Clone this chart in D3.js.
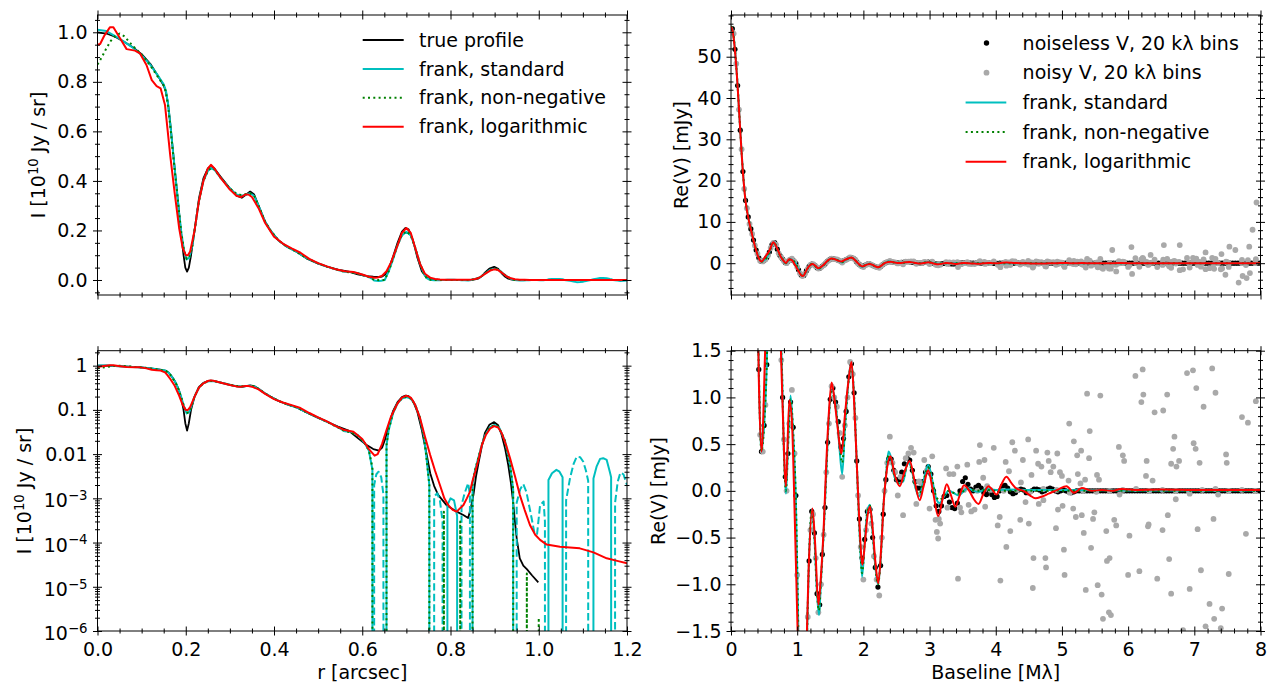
<!DOCTYPE html>
<html><head><meta charset="utf-8">
<script src="https://cdn.jsdelivr.net/npm/d3@7"></script>
<style>body{margin:0;background:#fff;} svg{display:block;} text{font-family:"DejaVu Sans",sans-serif;}</style>
</head><body><svg id="chart" width="1276" height="696"></svg>
<script>
// ---------------- DATA ----------------
// Brightness profiles [r (arcsec), I (1e10 Jy/sr)]
const profileTrue = [[0,1.0],[0.02,0.995],[0.04,0.982],[0.06,0.962],[0.08,0.94],[0.10,0.912],[0.12,0.872],[0.135,0.83],[0.15,0.785],[0.155,0.76],[0.16,0.71],[0.165,0.63],[0.17,0.54],[0.175,0.45],[0.18,0.36],[0.185,0.27],[0.19,0.18],[0.195,0.1],[0.199,0.05],[0.203,0.034],[0.207,0.05],[0.212,0.1],[0.22,0.2],[0.23,0.33],[0.24,0.41],[0.25,0.45],[0.257,0.46],[0.265,0.45],[0.28,0.415],[0.3,0.37],[0.315,0.34],[0.327,0.332],[0.337,0.345],[0.346,0.357],[0.355,0.345],[0.365,0.3],[0.38,0.235],[0.392,0.2],[0.41,0.16],[0.429,0.134],[0.45,0.115],[0.476,0.085],[0.5,0.066],[0.52,0.054],[0.545,0.042],[0.569,0.034],[0.59,0.023],[0.61,0.016],[0.625,0.013],[0.638,0.012],[0.645,0.014],[0.652,0.022],[0.66,0.045],[0.67,0.095],[0.68,0.15],[0.69,0.195],[0.698,0.21],[0.705,0.205],[0.715,0.16],[0.725,0.09],[0.735,0.035],[0.745,0.011],[0.754,0.0037],[0.763,0.0019],[0.772,0.0012],[0.791,0.0007],[0.814,0.0005],[0.829,0.00042],[0.84,0.00036],[0.846,0.0006],[0.852,0.0012],[0.858,0.0032],[0.864,0.0067],[0.871,0.015],[0.878,0.03],[0.888,0.046],[0.899,0.053],[0.908,0.045],[0.916,0.027],[0.924,0.013],[0.931,0.0056],[0.937,0.0022],[0.942,0.0008],[0.946,0.0003],[0.95,0.000125],[0.957,0.000044],[0.965,0.00003],[0.973,0.000025],[0.985,0.000018],[0.999,0.0000126]];

const profileStandard = [[0,1.01],[0.02,1.005],[0.04,0.985],[0.06,0.962],[0.08,0.938],[0.10,0.908],[0.12,0.868],[0.135,0.83],[0.15,0.79],[0.155,0.765],[0.16,0.71],[0.165,0.63],[0.17,0.54],[0.175,0.45],[0.18,0.36],[0.185,0.27],[0.19,0.19],[0.196,0.12],[0.202,0.083],[0.208,0.09],[0.215,0.14],[0.22,0.2],[0.23,0.32],[0.24,0.4],[0.25,0.44],[0.257,0.452],[0.265,0.445],[0.28,0.41],[0.3,0.37],[0.315,0.345],[0.327,0.34],[0.337,0.345],[0.346,0.35],[0.355,0.34],[0.365,0.3],[0.38,0.235],[0.392,0.2],[0.41,0.16],[0.429,0.135],[0.45,0.115],[0.476,0.086],[0.5,0.067],[0.52,0.054],[0.545,0.04],[0.56,0.033],[0.575,0.032],[0.59,0.027],[0.605,0.018],[0.615,0.012],[0.623,0.0045],[0.627,-0.002],[0.632,-0.0035],[0.637,-0.004],[0.643,-0.003],[0.648,-0.0012],[0.651,0],[0.655,0.016],[0.66,0.035],[0.67,0.085],[0.68,0.14],[0.69,0.18],[0.70,0.195],[0.71,0.18],[0.72,0.13],[0.73,0.07],[0.74,0.025],[0.746,0.0075],[0.752,0.002],[0.757,0],[0.763,-0.0011],[0.77,-0.0013],[0.776,-0.0009],[0.782,-0.0003],[0.787,0],[0.793,0.0007],[0.8,0.001],[0.808,0.0009],[0.815,0.0004],[0.82,0],[0.825,-0.0007],[0.832,-0.0013],[0.84,-0.0022],[0.844,-0.0012],[0.847,0],[0.85,0.0022],[0.856,0.0045],[0.864,0.009],[0.871,0.016],[0.878,0.026],[0.889,0.04],[0.9,0.046],[0.91,0.04],[0.9235,0.02],[0.935,0.0058],[0.942,0.0016],[0.946,0],[0.95,-0.0008],[0.958,-0.0016],[0.965,-0.0021],[0.972,-0.0014],[0.978,-0.0007],[0.984,-0.00035],[0.99,-0.00017],[0.996,-0.00015],[1.003,-0.0007],[1.011,-0.00085],[1.014,-0.0003],[1.018,0],[1.022,0.0026],[1.03,0.0037],[1.04,0.0044],[1.047,0.004],[1.054,0.003],[1.058,0],[1.062,-0.0009],[1.071,-0.0029],[1.079,-0.006],[1.086,-0.0087],[1.094,-0.0085],[1.101,-0.0067],[1.107,-0.0042],[1.112,-0.0025],[1.118,0],[1.124,0.0028],[1.131,0.0052],[1.139,0.0078],[1.146,0.0081],[1.154,0.0074],[1.161,0.004],[1.164,0.003],[1.168,0],[1.173,-0.0008],[1.179,-0.0024],[1.185,-0.0038],[1.192,-0.0035],[1.2,-0.002]];

const profileNonNeg = [[0,0.87],[0.01,0.9],[0.02,0.935],[0.03,0.965],[0.04,0.985],[0.05,0.995],[0.06,0.985],[0.08,0.945],[0.10,0.91],[0.12,0.865],[0.135,0.825],[0.15,0.785],[0.155,0.76],[0.16,0.7],[0.165,0.62],[0.17,0.53],[0.175,0.44],[0.18,0.36],[0.185,0.27],[0.19,0.19],[0.196,0.12],[0.202,0.085],[0.208,0.09],[0.215,0.14],[0.22,0.2],[0.23,0.32],[0.24,0.4],[0.25,0.44],[0.257,0.452],[0.265,0.447],[0.28,0.41],[0.3,0.37],[0.315,0.348],[0.327,0.342],[0.337,0.347],[0.346,0.35],[0.355,0.34],[0.365,0.3],[0.38,0.235],[0.392,0.2],[0.41,0.16],[0.429,0.135],[0.45,0.115],[0.476,0.086],[0.5,0.067],[0.52,0.054],[0.545,0.04],[0.56,0.033],[0.575,0.031],[0.59,0.026],[0.605,0.018],[0.615,0.012],[0.623,0.005],[0.627,0],[0.651,0],[0.655,0.016],[0.66,0.036],[0.67,0.087],[0.68,0.142],[0.69,0.182],[0.70,0.197],[0.71,0.18],[0.72,0.13],[0.73,0.07],[0.74,0.025],[0.746,0.0075],[0.752,0.002],[0.757,0],[0.781,0],[0.785,0.0005],[0.79,0],[0.818,0],[0.822,0.0003],[0.826,0],[0.847,0],[0.85,0.0022],[0.856,0.0045],[0.864,0.009],[0.871,0.016],[0.878,0.026],[0.889,0.04],[0.9,0.046],[0.91,0.04],[0.9235,0.02],[0.935,0.0058],[0.942,0.0016],[0.946,0],[0.97,0],[0.973,0.00002],[0.976,0],[0.997,0],[1.0,0.000002],[1.003,0],[1.2,0]];

const profileLog = [[0,0.95],[0.006,0.953],[0.015,0.985],[0.028,1.02],[0.036,1.02],[0.051,0.976],[0.066,0.932],[0.085,0.926],[0.096,0.915],[0.111,0.868],[0.123,0.807],[0.134,0.783],[0.143,0.774],[0.153,0.706],[0.158,0.62],[0.165,0.5],[0.175,0.35],[0.185,0.21],[0.193,0.13],[0.2,0.1],[0.205,0.1],[0.21,0.115],[0.22,0.2],[0.23,0.32],[0.24,0.4],[0.25,0.45],[0.257,0.465],[0.265,0.45],[0.28,0.41],[0.3,0.365],[0.315,0.34],[0.325,0.335],[0.335,0.345],[0.342,0.345],[0.35,0.335],[0.365,0.29],[0.38,0.23],[0.40,0.175],[0.42,0.147],[0.44,0.128],[0.46,0.11],[0.48,0.085],[0.50,0.068],[0.52,0.055],[0.54,0.043],[0.56,0.035],[0.58,0.032],[0.60,0.022],[0.615,0.013],[0.628,0.0092],[0.635,0.01],[0.645,0.017],[0.655,0.035],[0.665,0.07],[0.68,0.14],[0.69,0.19],[0.70,0.21],[0.71,0.19],[0.72,0.13],[0.731,0.065],[0.742,0.025],[0.754,0.0095],[0.765,0.0042],[0.776,0.002],[0.786,0.001],[0.795,0.0007],[0.805,0.00055],[0.814,0.0005],[0.822,0.0006],[0.829,0.0007],[0.837,0.001],[0.844,0.0014],[0.85,0.0025],[0.856,0.004],[0.864,0.008],[0.871,0.016],[0.88,0.027],[0.89,0.038],[0.899,0.043],[0.908,0.04],[0.916,0.03],[0.926,0.016],[0.935,0.008],[0.946,0.0032],[0.957,0.0012],[0.968,0.00055],[0.98,0.00025],[0.992,0.00015],[1.003,0.000115],[1.018,0.00009],[1.048,0.00008],[1.093,0.000074],[1.124,0.00006],[1.154,0.000044],[1.18,0.000038],[1.2,0.000034]];

// Visibilities: binned noiseless Re(V) [mJy], bins of 40 klambda starting at 0.02 Mlambda
const noiselessStart = 0.02, noiselessStep = 0.04;
const noiselessV = [
 56.8,51.8,43.0,32.2,22.2,15.2,11.2,8.3,5.6,3.2,
 1.3,0.42,0.7,1.35,2.7,4.5,5.0,3.4,1.85,1.0,
 0.15,0.4,0.95,0.68,-0.05,-1.6,-2.85,-2.95,-1.8,-0.75,
 -0.22,-0.45,-1.1,-1.22,-0.68,-0.18,0.52,0.98,1.1,0.95,
 0.74,0.47,0.56,0.85,1.22,1.36,1.05,0.32,-0.3,-0.72,
 -0.52,-0.22,-0.2,-0.5,-0.82,-1.03,-0.8,-0.25,0.12,0.34,
 0.34,0.22,0.12,0.12,0.2,0.29,0.35,0.33,0.22,0.1,
 0.03,0.03,0.1,0.2,0.26,0.18,0.0,-0.16,-0.22,-0.16,
 -0.06,-0.05,-0.12,-0.18,-0.19,-0.13,0.0,0.1,0.14,0.07,
 0.02,0.0,0.04,0.06,0.03,-0.02,-0.04,0.0,-0.04,-0.07,
 -0.06,0.0,0.05,0.06,0.03,-0.01,-0.03,-0.02,0.01,0.02,
 0.01,-0.02,-0.02,0.0,0.02,0.02,0.01,-0.01,0.0,0.02,
 0.03,0.02,0.0,-0.01,0.0,0.01,0.0,-0.01,-0.02,-0.01,
 0,0,0,0,0,0,0,0,0,0,
 0,0,0,0,0,0,0,0,0,0,
 0,0,0,0,0,0,0,0,0,0,
 0,0,0,0,0,0,0,0,0,0,
 0,0,0,0,0,0,0,0,0,0,
 0,0,0,0,0,0,0,0,0,0,
 0,0,0,0,0,0,0,0,0,0];

// Noisy binned Re(V): short baselines (bins from 0.04 Mlambda, step 0.04)
const noisyNearStart = 0.04, noisyNearStep = 0.04;
const noisyNearV = [
 55.6,48.3,37.2,27.6,18.0,13.3,9.5,7.1,4.3,2.3,
 0.6,0.42,0.92,1.95,3.7,4.9,4.5,2.4,1.4,0.55,
 0.0,0.72,1.08,0.4,-0.9,-2.4,-3.1,-2.5,-1.35,-0.42,
 -0.25,-0.72,-1.3,-1.0,-0.47,0.2,0.72,1.12,1.0,0.9,
 0.62,0.15,0.7,1.0,1.38,1.25,0.78,-0.05,-0.6,-0.95,
 -0.42,-0.2,-0.35,-0.7,-0.95,-1.12,-0.5,0.0,0.3,0.58,
 0.3,0.2,-0.05,0.15,-0.26,0.35,0.4,0.46,0.41,-0.14,
 0.1,0.08,0.33,0.22,-0.19];
// Noisy bins lying close to zero at long baselines (from 3.52 Mlambda, step 0.2)
const noisyQuietStart = 3.52, noisyQuietStep = 0.2;
const noisyQuietV = [0.01,0.0,0.01,0.0,0.01,-0.01,0.02,0.01,-0.02,0.0,-0.01,0.0,0.01,0.02,0.0,0.01,0.0,-0.01,0.01,0.02,0.0,0.01,0.0];
// Scattered noisy bins [baseline Mlambda, Re(V) mJy]
const noisyScatter = [[3.04,0.37],[3.09,-0.31],[3.11,-0.44],[3.13,-0.51],[3.14,-0.30],[3.16,-0.35],[3.25,0.24],[3.27,-0.18],[3.30,0.18],[3.36,0.18],[3.42,0.26],[3.43,-0.94],[3.46,-0.18],[3.48,-0.23],[3.57,0.28],[3.59,-0.15],[3.63,-0.22],[3.68,-0.2],[3.75,0.31],[3.76,0.49],[3.81,0.14],[3.83,0.33],[3.84,-0.17],[3.87,0.05],[3.97,0.46],[4.03,-0.37],[4.06,-0.28],[4.07,-0.96],[4.15,0.31],[4.16,-0.60],[4.20,0.21],[4.22,-0.43],[4.25,0.52],[4.29,0.43],[4.37,-0.31],[4.38,0.09],[4.41,0.33],[4.45,-0.12],[4.49,0.55],[4.50,-0.35],[4.54,0.17],[4.56,-1.04],[4.57,-0.72],[4.61,0.43],[4.64,0.29],[4.65,-0.14],[4.69,0.26],[4.72,-0.1],[4.75,-0.72],[4.76,-0.82],[4.78,0.41],[4.80,0.32],[4.83,0.2],
[6.22,1.30],[6.11,1.23],[6.89,1.26],[6.98,1.29],[7.27,1.31],[5.38,1.04],[5.58,1.02],[6.23,1.03],[6.20,0.95],[6.59,1.03],[7.03,1.10],[7.32,1.05],[7.93,0.96],[7.14,0.90],[6.40,0.84],[6.53,0.86],[5.11,0.72],[5.42,0.64],[7.72,0.79],[7.81,0.73],[6.70,0.58],[6.99,0.51],[5.86,0.47],[5.18,0.53],[4.93,0.40],[5.23,0.38],[5.29,0.43],[5.41,0.35],[5.92,0.38],[5.94,0.32],[6.28,0.32],[6.68,0.45],[6.77,0.32],[6.73,0.26],[6.65,0.29],[7.02,0.45],[7.08,0.30],[7.48,0.39],[7.49,0.30],[4.87,0.26],[4.97,0.20],[5.0,0.16],[5.1,0.11],[5.24,0.18],[5.28,0.08],[5.35,0.12],[5.53,0.17],[5.56,0.12],[6.27,0.16],[6.37,0.11],[5.87,-0.04],[6.72,-0.09],[6.93,-0.03],[7.36,-0.04],[4.94,-0.20],[5.01,-0.16],[5.17,-0.19],[5.21,-0.28],[5.30,-0.26],[5.47,-0.30],[5.49,-0.23],[5.79,-0.31],[5.82,-0.37],[6.31,-0.36],[6.30,-0.38],[6.60,-0.26],[6.52,-0.42],[7.29,-0.30],[7.05,-0.41],[4.91,-0.40],[5.33,-0.45],[5.67,-0.43],[6.02,-0.48],[7.78,-0.46],[5.03,-0.63],[5.44,-0.61],[5.72,-0.72],[5.68,-0.75],[6.62,-0.73],[5.04,-0.90],[6.00,-0.90],[6.17,-0.86],[7.10,-0.85],[7.52,-0.89],[5.36,-1.06],[5.54,-1.01],[5.60,-1.11],[6.44,-0.94],[6.65,-1.10],[6.93,-1.05],[7.23,-1.21],[7.42,-1.26],[5.71,-1.30],[5.74,-1.33],[5.62,-1.37],[7.17,-1.45],[7.30,-1.37],[6.83,-1.49],[7.40,-1.47],
[5.76,3.2],[6.05,3.9],[6.06,-2.6],[6.54,4.4],[6.78,4.4],[6.34,2.0],[7.17,2.6],[7.41,2.2],[7.53,4.0],[7.47,-2.8],[7.67,-4.7],[7.73,-3.1],[7.79,-3.6],[7.83,4.0],[7.88,8.1],[7.94,14.7],[7.84,-2.4],[7.62,3.2],[5.82,-2.0],[6.78,-1.7]];

// frank fits in visibility space [baseline Mlambda, Re(V) mJy]
const visStandard = [[0,57.4],[0.02,56.8],[0.06,51.8],[0.10,43],[0.14,32.2],[0.18,22.2],[0.22,15.2],[0.26,11.2],[0.30,8.3],[0.34,5.6],[0.38,3.2],[0.42,1.3],[0.46,0.42],[0.50,0.7],[0.54,1.35],[0.58,2.7],[0.62,4.5],[0.65,5.1],[0.70,3.4],[0.74,1.85],[0.77,1.3],[0.80,0.4],[0.83,-0.03],[0.86,0.45],[0.90,1.02],[0.94,0.6],[0.98,-0.1],[1.02,-1.6],[1.06,-2.85],[1.09,-3.05],[1.14,-1.8],[1.18,-0.7],[1.22,-0.2],[1.26,-0.5],[1.30,-1.1],[1.33,-1.33],[1.36,-0.95],[1.40,-0.45],[1.44,0.2],[1.48,0.8],[1.52,1.08],[1.56,1.02],[1.60,0.8],[1.64,0.45],[1.68,0.18],[1.72,0.65],[1.76,1.05],[1.80,1.32],[1.82,1.35],[1.86,1.0],[1.90,0.3],[1.94,-0.4],[1.98,-0.92],[2.02,-0.55],[2.06,-0.22],[2.10,-0.15],[2.14,-0.45],[2.18,-0.8],[2.22,-1.0],[2.26,-0.75],[2.30,-0.2],[2.34,0.15],[2.38,0.42],[2.42,0.35],[2.47,0.15],[2.54,0.08],[2.60,0.1],[2.67,0.3],[2.72,0.26],[2.78,0.05],[2.84,-0.06],[2.90,0.08],[2.98,0.28],[3.04,0.12],[3.10,-0.08],[3.15,-0.13],[3.22,-0.06],[3.29,0.0],[3.36,-0.02],[3.44,-0.05],[3.52,0.0],[3.58,0.03],[3.66,0.0],[3.75,-0.01],[3.85,0.02],[4.0,0.01],[4.2,0.015],[4.5,0.01],[5.0,0.01],[6.0,0.005],[8.0,0.005]];
const visNonNeg = [[0,57.4],[0.02,56.8],[0.06,51.8],[0.10,43],[0.14,32.2],[0.18,22.2],[0.22,15.2],[0.26,11.2],[0.30,8.3],[0.34,5.6],[0.38,3.2],[0.42,1.3],[0.46,0.42],[0.50,0.7],[0.54,1.35],[0.58,2.7],[0.62,4.5],[0.65,5.1],[0.70,3.4],[0.74,1.85],[0.77,1.3],[0.80,0.4],[0.83,0.0],[0.86,0.45],[0.90,0.98],[0.94,0.62],[0.98,-0.1],[1.02,-1.6],[1.06,-2.85],[1.09,-3.05],[1.14,-1.8],[1.18,-0.7],[1.22,-0.2],[1.26,-0.5],[1.30,-1.1],[1.33,-1.28],[1.36,-0.95],[1.40,-0.45],[1.44,0.2],[1.48,0.8],[1.52,1.06],[1.56,1.0],[1.60,0.8],[1.64,0.5],[1.68,0.3],[1.72,0.65],[1.76,1.05],[1.80,1.3],[1.82,1.33],[1.86,1.0],[1.90,0.3],[1.94,-0.4],[1.98,-0.88],[2.02,-0.55],[2.06,-0.22],[2.10,-0.16],[2.14,-0.45],[2.18,-0.8],[2.22,-1.0],[2.26,-0.75],[2.30,-0.2],[2.34,0.15],[2.38,0.38],[2.42,0.34],[2.47,0.16],[2.54,0.08],[2.60,0.12],[2.67,0.28],[2.72,0.25],[2.78,0.06],[2.84,-0.04],[2.90,0.08],[2.98,0.25],[3.04,0.12],[3.10,-0.06],[3.15,-0.1],[3.22,-0.05],[3.29,0.0],[3.36,-0.02],[3.44,-0.03],[3.52,0.0],[3.6,0.02],[3.7,0.0],[3.85,0.01],[4.0,0.0],[5.0,0.0],[8.0,0.0]];
const visLog = [[0,57.3],[0.02,56.6],[0.06,51.5],[0.10,42.8],[0.14,32],[0.18,22],[0.22,15],[0.26,11.1],[0.30,8.2],[0.34,5.5],[0.38,3.1],[0.42,1.2],[0.46,0.42],[0.52,1.6],[0.58,3.0],[0.64,5.1],[0.70,3.5],[0.75,1.6],[0.78,0.9],[0.83,0.05],[0.88,0.97],[0.92,0.75],[0.96,-0.2],[1.01,-1.6],[1.06,-2.9],[1.09,-3.1],[1.13,-2.0],[1.17,-0.9],[1.23,-0.19],[1.27,-0.55],[1.32,-1.22],[1.36,-0.9],[1.40,-0.4],[1.44,0.3],[1.48,0.85],[1.52,1.16],[1.56,1.0],[1.60,0.75],[1.67,0.40],[1.72,0.8],[1.77,1.15],[1.82,1.38],[1.86,0.95],[1.90,0.3],[1.94,-0.35],[1.985,-0.79],[2.03,-0.5],[2.06,-0.28],[2.10,-0.17],[2.14,-0.4],[2.18,-0.75],[2.225,-0.99],[2.27,-0.6],[2.31,-0.1],[2.35,0.2],[2.41,0.37],[2.47,0.18],[2.55,0.05],[2.62,0.2],[2.70,0.32],[2.77,0.12],[2.85,-0.1],[2.91,0.05],[2.98,0.22],[3.05,0.0],[3.13,-0.27],[3.20,-0.08],[3.26,0.07],[3.32,-0.04],[3.39,-0.17],[3.45,-0.06],[3.52,0.06],[3.60,0.0],[3.67,-0.09],[3.74,-0.14],[3.81,-0.04],[3.89,0.05],[3.95,0.01],[4.01,-0.04],[4.08,0.06],[4.16,0.15],[4.24,0.08],[4.32,0.02],[4.42,0.0],[4.52,-0.05],[4.60,-0.08],[4.70,-0.06],[4.80,-0.03],[4.93,0.01],[5.07,0.05],[5.18,-0.02],[5.30,0.03],[5.45,0.0],[5.6,0.01],[5.75,0.0],[5.9,0.02],[6.1,0.01],[6.5,0.015],[7.0,0.01],[8.0,0.01]];

// Tick values / labels
const rTicks = [0,0.2,0.4,0.6,0.8,1.0,1.2];
const linTicks = [0,0.2,0.4,0.6,0.8,1.0];
const logTicks = [1e-6,1e-5,1e-4,1e-3,0.01,0.1,1];
const logTickLabels = ['10^\u22126','10^\u22125','10^\u22124','10^\u22123','0.01','0.1','1'];
const qTicks = [0,1,2,3,4,5,6,7,8];
const trTicks = [0,10,20,30,40,50];
const brTicks = [-1.5,-1.0,-0.5,0,0.5,1.0,1.5];

const profileLegend = ['true profile','frank, standard','frank, non-negative','frank, logarithmic'];
const visLegend = ['noiseless V, 20 k\u03bb bins','noisy V, 20 k\u03bb bins','frank, standard','frank, non-negative','frank, logarithmic'];

// ---------------- DRAWING ----------------
const FS = 19;
const C = {k:'#000000', c:'#00bfbf', g:'#008000', r:'#ff0000', gray:'#a9a9a9'};
const svg = d3.select('#chart');
svg.append('rect').attr('width',1276).attr('height',696).attr('fill','#fff');

const xR = d3.scaleLinear().domain([0,1.2]).range([97.5,627]);
const yLin = d3.scaleLinear().domain([-0.0606,1.0698]).range([295,15]);
const yLog = d3.scaleLog().domain([1e-6,2.18]).range([631,350.7]);
const xQ = d3.scaleLinear().domain([0,8]).range([731,1260.5]);
const yTR = d3.scaleLinear().domain([-7.7,60.1]).range([295,15]);
const yBR = d3.scaleLinear().domain([-1.5,1.5]).range([631,350.7]);

function clipG(id, xs, ys){
  const [x0,x1] = xs.range(); const yb = ys.range()[0], yt = ys.range()[1];
  svg.append('clipPath').attr('id',id).append('rect').attr('x',x0).attr('y',yt).attr('width',x1-x0).attr('height',yb-yt);
  return svg.append('g').attr('clip-path',`url(#${id})`);
}
function path(g, d, color, w, dash){
  const p = g.append('path').attr('d',d).attr('fill','none').attr('stroke',color).attr('stroke-width',w).attr('stroke-linejoin','round');
  if(dash) p.attr('stroke-dasharray',dash);
  return p;
}
const DOT = '2,3.3', DASH = '7.4,3.2';
const pos = v => v > 0 ? v : 1e-300;

// ---- top-left: linear profile
const gTL = clipG('cTL', xR, yLin);
const lTL = d3.line().x(d=>xR(d[0])).y(d=>yLin(d[1]));
path(gTL, lTL(profileTrue), C.k, 1.8);
path(gTL, lTL(profileStandard), C.c, 2);
path(gTL, lTL(profileNonNeg), C.g, 2, DOT);
path(gTL, lTL(profileLog), C.r, 2);

// ---- bottom-left: log profile
const gBL = clipG('cBL', xR, yLog);
const lBL = d3.line().x(d=>xR(d[0])).y(d=>yLog(pos(d[1])));
path(gBL, lBL(profileTrue), C.k, 1.8);
path(gBL, lBL(profileStandard), C.c, 2);
path(gBL, lBL(profileStandard.map(d=>[d[0],-d[1]])), C.c, 2, DASH);
path(gBL, lBL(profileNonNeg), C.g, 2, DOT);
path(gBL, lBL(profileLog), C.r, 2);

// ---- visibility panels
const noiselessPts = noiselessV.map((v,i)=>[noiselessStart + i*noiselessStep, v]);
const noisyPts = noisyNearV.map((v,i)=>[noisyNearStart + i*noisyNearStep, v])
  .concat(noisyQuietV.map((v,i)=>[noisyQuietStart + i*noisyQuietStep, v]))
  .concat(noisyScatter);
function visPanel(id, ys){
  const g = clipG(id, xQ, ys);
  g.selectAll('circle.nl').data(noiselessPts).join('circle').attr('class','nl')
    .attr('cx',d=>xQ(d[0])).attr('cy',d=>ys(d[1])).attr('r',2.6).attr('fill',C.k);
  g.selectAll('circle.nz').data(noisyPts).join('circle').attr('class','nz')
    .attr('cx',d=>xQ(d[0])).attr('cy',d=>ys(d[1])).attr('r',2.9).attr('fill',C.gray);
  const l = d3.line().x(d=>xQ(d[0])).y(d=>ys(d[1])).curve(d3.curveMonotoneX);
  path(g, l(visStandard), C.c, 2);
  path(g, l(visNonNeg), C.g, 2, DOT);
  path(g, l(visLog), C.r, 2);
}
visPanel('cTR', yTR);
visPanel('cBR', yBR);

// ---- axes / ticks
function minors(lo, hi, step, majors){
  const out = [];
  for(let k=Math.ceil(lo/step-1e-9); k*step<=hi+1e-9; k++){
    const v = +(k*step).toFixed(6);
    if(!majors.some(m=>Math.abs(m-v)<1e-9)) out.push(v);
  }
  return out;
}
function drawAxes(xs, ys, o){
  const [x0,x1] = xs.range(); const yb = ys.range()[0], yt = ys.range()[1];
  const sides = [
    ['bottom', d3.axisBottom, xs, `translate(0,${yb})`, o.xMaj, o.xMin, o.xFmt],
    ['top', d3.axisTop, xs, `translate(0,${yt})`, o.xMaj, o.xMin, null],
    ['left', d3.axisLeft, ys, `translate(${x0},0)`, o.yMaj, o.yMin, o.yFmt],
    ['right', d3.axisRight, ys, `translate(${x1},0)`, o.yMaj, o.yMin, null]];
  sides.forEach(([side, fn, sc, tr, maj, mn, fmt])=>{
    [[mn, 2.5, false],[maj, 4.5, true]].forEach(([vals, len, isMaj])=>{
      const ax = fn(sc).tickValues(vals).tickSizeInner(len).tickSizeOuter(0)
        .tickPadding(side==='bottom'?7.5:(o.pad||5.5))
        .tickFormat(isMaj && fmt ? fmt : ()=>'');
      const g = svg.append('g').attr('transform',tr).call(ax);
      g.select('.domain').remove();
      g.attr('font-size',FS).attr('font-family','DejaVu Sans');
      g.selectAll('.tick line').attr('stroke','#000').attr('stroke-width',1);
      if(side==='bottom') g.selectAll('.tick line').attr('y1',-len);
      if(side==='top') g.selectAll('.tick line').attr('y1',len);
      if(side==='left') g.selectAll('.tick line').attr('x1',len);
      if(side==='right') g.selectAll('.tick line').attr('x1',-len);
      g.selectAll('.tick text').attr('fill','#000').each(function(){
        const t = d3.select(this); const s = t.text();
        if(s.indexOf('^')>=0){
          const [b,e] = s.split('^');
          t.text('').attr('dy','0.45em');
          t.append('tspan').text(b);
          t.append('tspan').attr('dy','-0.55em').attr('font-size',FS*0.7).text(e);
        }
      });
    });
  });
  svg.append('rect').attr('x',x0).attr('y',yt).attr('width',x1-x0).attr('height',yb-yt)
    .attr('fill','none').attr('stroke','#000').attr('stroke-width',1);
}
const fmt1 = d3.format('.1f');
const minusFmt = v => fmt1(v).replace('-','\u2212');
drawAxes(xR, yLin, {xMaj:rTicks, xMin:minors(0,1.2,0.05,rTicks), xFmt:null,
  yMaj:linTicks, yMin:minors(-0.05,1.05,0.05,linTicks), yFmt:fmt1});
const logMinor = [];
for(let e=-6;e<=0;e++) for(let m=2;m<=9;m++){ const v=m*Math.pow(10,e); if(v<2.18) logMinor.push(v); }
drawAxes(xR, yLog, {xMaj:rTicks, xMin:minors(0,1.2,0.05,rTicks), xFmt:fmt1,
  yMaj:logTicks, yMin:logMinor, yFmt:(v)=>logTickLabels[logTicks.indexOf(v)]});
drawAxes(xQ, yTR, {xMaj:qTicks, xMin:minors(0,8,0.2,qTicks), xFmt:null,
  yMaj:trTicks, yMin:minors(-6,60,2,trTicks), yFmt:d3.format('d'), pad:5});
drawAxes(xQ, yBR, {xMaj:qTicks, xMin:minors(0,8,0.2,qTicks), xFmt:d3.format('d'),
  yMaj:brTicks, yMin:minors(-1.5,1.5,0.1,brTicks), yFmt:minusFmt, pad:5});

// ---- axis labels
function ylabel(x, y, parts){
  const t = svg.append('text').attr('transform',`translate(${x},${y}) rotate(-90)`)
    .attr('text-anchor','middle').attr('font-size',FS).attr('fill','#000');
  parts.forEach(p=>{
    const s = t.append('tspan').text(p[0]);
    if(p[1]==='sup') s.attr('dy','-0.5em').attr('font-size',FS*0.7);
    if(p[1]==='back') s.attr('dy','0.35em');
  });
}
const ILabel = [['I [10'],['10','sup'],[' Jy / sr]','back']];
ylabel(45, 155, ILabel);
ylabel(31, 491, ILabel);
ylabel(688, 155, [['Re(V) [mJy]']]);
ylabel(665, 491, [['Re(V) [mJy]']]);
svg.append('text').attr('x',xR(0.6)).attr('y',679).attr('text-anchor','middle').attr('font-size',FS).text('r [arcsec]');
svg.append('text').attr('x',xQ(4)).attr('y',679).attr('text-anchor','middle').attr('font-size',FS).text('Baseline [M\u03bb]');

// ---- legends
const lgTL = svg.append('g');
const tlStyles = [[C.k,null],[C.c,null],[C.g,DOT],[C.r,null]];
profileLegend.forEach((name,i)=>{
  const y = 40 + i*28.9;
  const l = lgTL.append('line').attr('x1',362.7).attr('x2',403.7).attr('y1',y).attr('y2',y)
    .attr('stroke',tlStyles[i][0]).attr('stroke-width',2);
  if(tlStyles[i][1]) l.attr('stroke-dasharray',tlStyles[i][1]);
  lgTL.append('text').attr('x',419).attr('y',y).attr('dy','0.35em').attr('font-size',FS).text(name);
});
const lgTR = svg.append('g');
visLegend.forEach((name,i)=>{
  const y = 43 + i*29.7;
  if(i===0) lgTR.append('circle').attr('cx',986.5).attr('cy',y).attr('r',2.7).attr('fill',C.k);
  else if(i===1) lgTR.append('circle').attr('cx',986.5).attr('cy',y).attr('r',2.9).attr('fill',C.gray);
  else {
    const st = [[C.c,null],[C.g,DOT],[C.r,null]][i-2];
    const l = lgTR.append('line').attr('x1',965.6).attr('x2',1006.3).attr('y1',y).attr('y2',y)
      .attr('stroke',st[0]).attr('stroke-width',2);
    if(st[1]) l.attr('stroke-dasharray',st[1]);
  }
  lgTR.append('text').attr('x',1022.6).attr('y',y).attr('dy','0.35em').attr('font-size',FS).text(name);
});
</script></body></html>
